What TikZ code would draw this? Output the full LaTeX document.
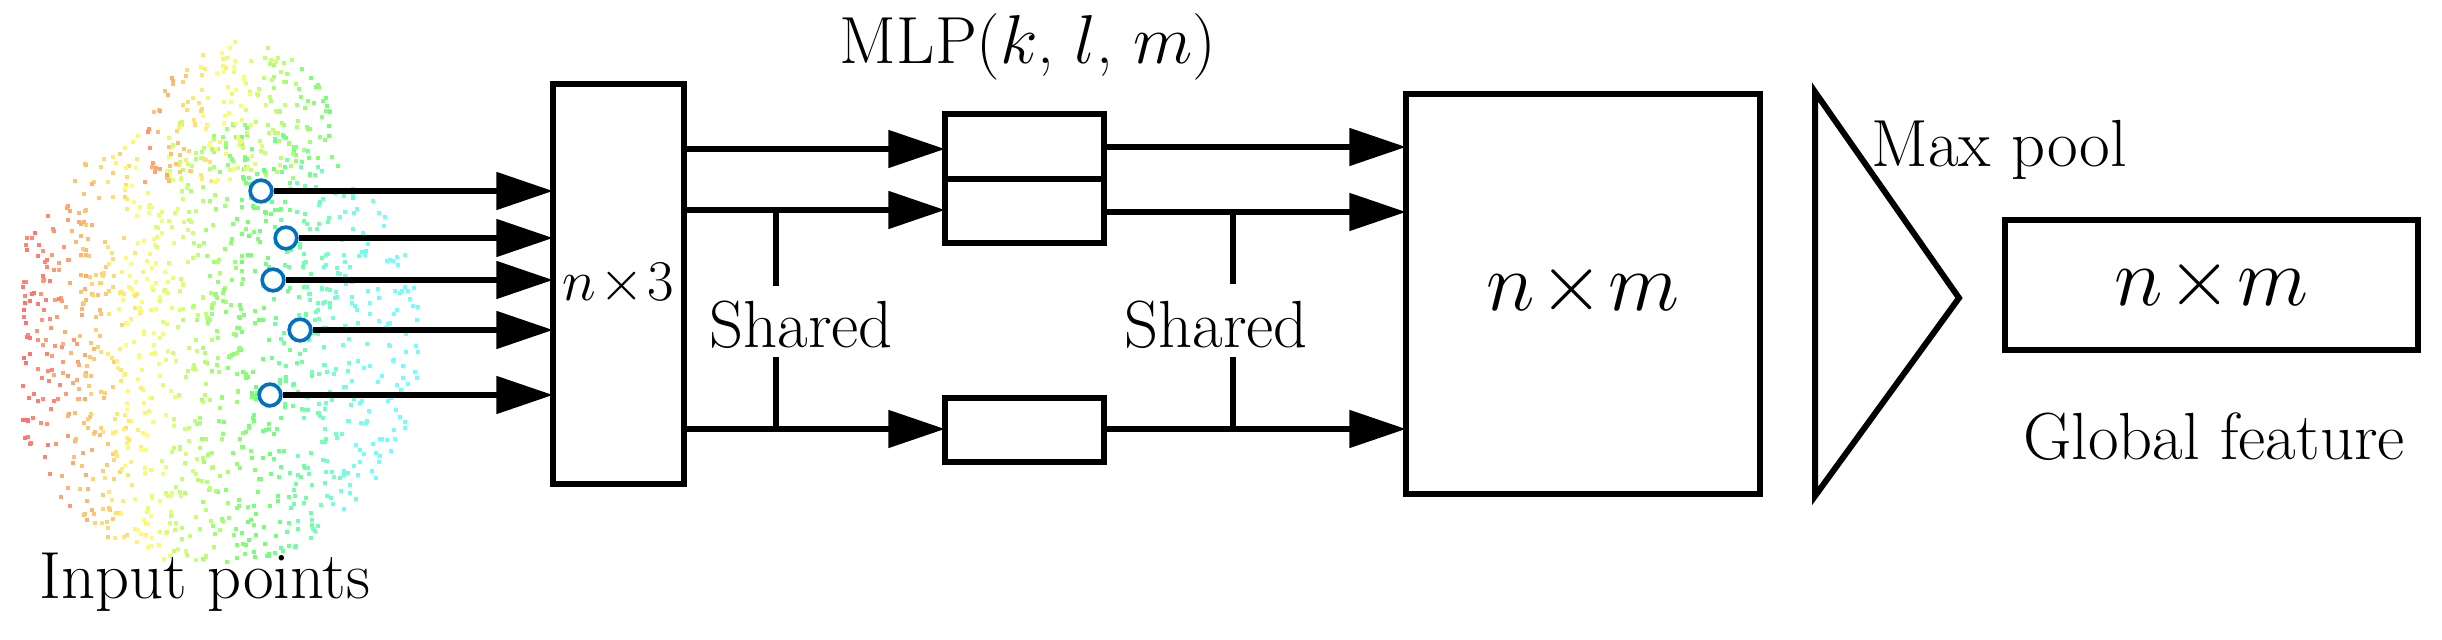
\documentclass[tikz,border=0pt]{standalone}
\usetikzlibrary{arrows.meta}
\definecolor{cblue}{RGB}{0,112,192}
\begin{document}
\begin{tikzpicture}[x=0.3pt,y=-0.3pt,
  ln/.style={line width=1.8pt},
  arr/.style={ln,-{Triangle[length=17pt,width=11pt]}},
  box/.style={draw,line width=1.8pt,inner sep=0pt,rectangle},
  pt/.style={draw=cblue,line width=1.1pt,fill=white,circle,minimum size=6.5pt,inner sep=0pt},
  lbl/.style={font=\fontsize{20}{22}\selectfont,inner sep=0pt}]
\useasboundingbox (0,0) rectangle (2442,640);
% point cloud
\pgfmathsetseed{7}
\foreach \i in {1,...,1500}{
  \pgfmathsetmacro\u{rnd}\pgfmathsetmacro\v{rnd}
  \pgfmathsetmacro\px{20+420*\u}\pgfmathsetmacro\py{120+440*\v}
  \pgfmathsetmacro\rr{((\px-210)/210)^2+((\py-340)/225)^2}
  \pgfmathsetmacro\hh{max(0,min(0.5,(\px-40)/700+0.05*rnd))}
  \ifdim\rr pt<1pt
    \definecolor{tc}{hsb}{\hh,0.55,1}
    \fill[tc] (\px,\py) rectangle ++(4,4);
  \fi
}
\foreach \i in {1,...,250}{
  \pgfmathsetmacro\u{rnd}\pgfmathsetmacro\v{rnd}
  \pgfmathsetmacro\px{140+200*\u}\pgfmathsetmacro\py{40+140*\v}
  \pgfmathsetmacro\rr{((\px-240)/100)^2+((\py-160)/120)^2}
  \pgfmathsetmacro\hh{max(0,min(0.5,(\px-120)/700+0.05*rnd))}
  \ifdim\rr pt<1pt
    \definecolor{tc}{hsb}{\hh,0.55,1}
    \fill[tc] (\px,\py) rectangle ++(4,4);
  \fi
}
\node[lbl,anchor=west] (inp) at (39,582) {Input points};
% n x 3 box
\node[box,minimum width=131*0.3pt,minimum height=400*0.3pt] (b3) at (618.5,284) {};
\node[font=\fontsize{17}{19}\selectfont,inner sep=0pt] at (618,284) {$n\!\times\!3$};
% input circles
\foreach \n/\x/\y in {1/261/191,2/286/238,3/273/280,4/300/330,5/270/395}{
  \node[pt] (c\n) at (\x,\y) {};
  \coordinate (e\n) at (553,\y);
  \draw[arr] (c\n.east) -- (e\n);
}
% MLP boxes
\node[box,minimum width=159*0.3pt,minimum height=65*0.3pt] (m1) at (1024.5,146.5) {};
\node[box,minimum width=159*0.3pt,minimum height=64*0.3pt] (m2) at (1024.5,211) {};
\node[box,minimum width=159*0.3pt,minimum height=64*0.3pt] (m3) at (1024.5,430) {};
\node[lbl] (mlp) at (1028,47) {MLP($k$, $l$, $m$)};
\coordinate (a1) at (684,149); \coordinate (a2) at (684,210); \coordinate (a3) at (684,429);
\draw[arr] (a1) -- (945,149);
\draw[arr] (a2) -- (945,210);
\draw[arr] (a3) -- (945,429);
\draw[ln] (776,210) -- (776,286) (776,357) -- (776,429);
\node[lbl] (s1) at (801,325) {Shared};
% big box
\node[box,minimum width=354*0.3pt,minimum height=400*0.3pt] (big) at (1583,294) {};
\node[font=\fontsize{30}{32}\selectfont,inner sep=0pt] at (1583,290) {$n\!\times\!m$};
\draw[arr] (1104,147) -- (1406,147);
\draw[arr] (1104,212) -- (1406,212);
\draw[arr] (1104,429) -- (1406,429);
\draw[ln] (1233,212) -- (1233,284) (1233,357) -- (1233,429);
\node[lbl] (s2) at (1216,325) {Shared};
% triangle
\draw[line width=1.8pt,line join=miter] (1815,92) -- (1959,298) -- (1815,496) -- cycle;
\node[lbl,anchor=west] (mp) at (1871,150) {Max pool};
% small box
\node[box,minimum width=413*0.3pt,minimum height=130*0.3pt] (gb) at (2211.5,285) {};
\node[font=\fontsize{30}{32}\selectfont,inner sep=0pt] at (2211.5,285) {$n\!\times\!m$};
\node[lbl] (gf) at (2214,437) {Global feature};
\end{tikzpicture}
\end{document}
